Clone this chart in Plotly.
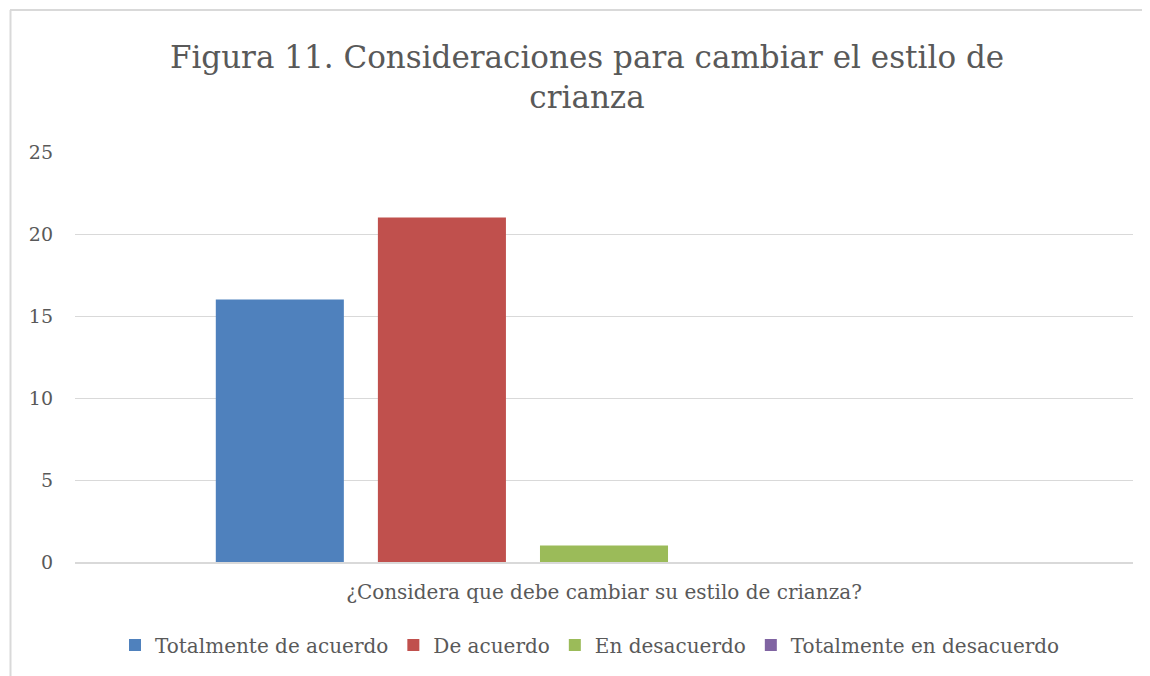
import plotly.graph_objects as go

categories = ["¿Considera que debe cambiar su estilo de crianza?"]
series_names = ["Totalmente de acuerdo", "De acuerdo", "En desacuerdo", "Totalmente en desacuerdo", ""]
series_values = [[16], [21], [1], [0], [None]]
series_colors = ["#4F81BD", "#C0504D", "#9BBB59", "#8064A2", "#FFFFFF"]
y_ticks = [0, 5, 10, 15, 20, 25]

W, H = 1150, 676
OFF = 8  # page body margin
L, R, T, B = 75 - OFF, 1150 - (1133 - OFF), 152 - OFF, 676 - (562 - OFF)
pw = W - L - R
ph = H - T - B
base = 562 - OFF

fig = go.Figure()
for name, vals, col in zip(series_names, series_values, series_colors):
    fig.add_trace(go.Bar(x=categories, y=vals, name=name, marker_color=col,
                         marker_line_width=0, showlegend=bool(name)))

serif = "DejaVu Serif, Liberation Serif, serif"
grey = "#595959"

fig.update_layout(
    width=W, height=H,
    margin=dict(l=L, r=R, t=T, b=B),
    paper_bgcolor="white", plot_bgcolor="white",
    barmode="group", bargap=0.234, bargroupgap=0.21,
    title=dict(text="Figura 11. Consideraciones para cambiar el estilo de<br>crianza",
               x=(587 - OFF) / W, xanchor="center", xref="container",
               y=1 - 60 / H, yanchor="middle", yref="container",
               font=dict(family=serif, size=31, color=grey)),
    legend=dict(orientation="h", x=(590 - OFF - L) / pw, xanchor="center",
                y=-(645 - 562) / ph, yanchor="middle",
                font=dict(family=serif, size=20, color=grey),
                traceorder="normal"),
    xaxis=dict(showline=True, linecolor="#D9D9D9", linewidth=1.5,
               tickfont=dict(family=serif, size=20, color=grey),
               ticklabelstandoff=11,
               ticks="", showgrid=False),
    yaxis=dict(range=[0, 25], tickvals=y_ticks, showgrid=True, gridcolor="#D9D9D9",
               gridwidth=1, zeroline=False, showline=False, ticks="",
               ticklabelstandoff=21,
               tickfont=dict(family=serif, size=19, color=grey)),
    shapes=[
        dict(type="line", xref="paper", yref="paper",
             x0=(2 - L) / pw, x1=(1160 - L) / pw, y0=(base - 2) / ph, y1=(base - 2) / ph,
             line=dict(color="#D9D9D9", width=2)),
        dict(type="line", xref="paper", yref="paper",
             x0=(2.5 - L) / pw, x1=(2.5 - L) / pw, y0=(base - 2) / ph, y1=(base - 700) / ph,
             line=dict(color="#D9D9D9", width=2)),
    ],
)

fig.write_html("out.html")
